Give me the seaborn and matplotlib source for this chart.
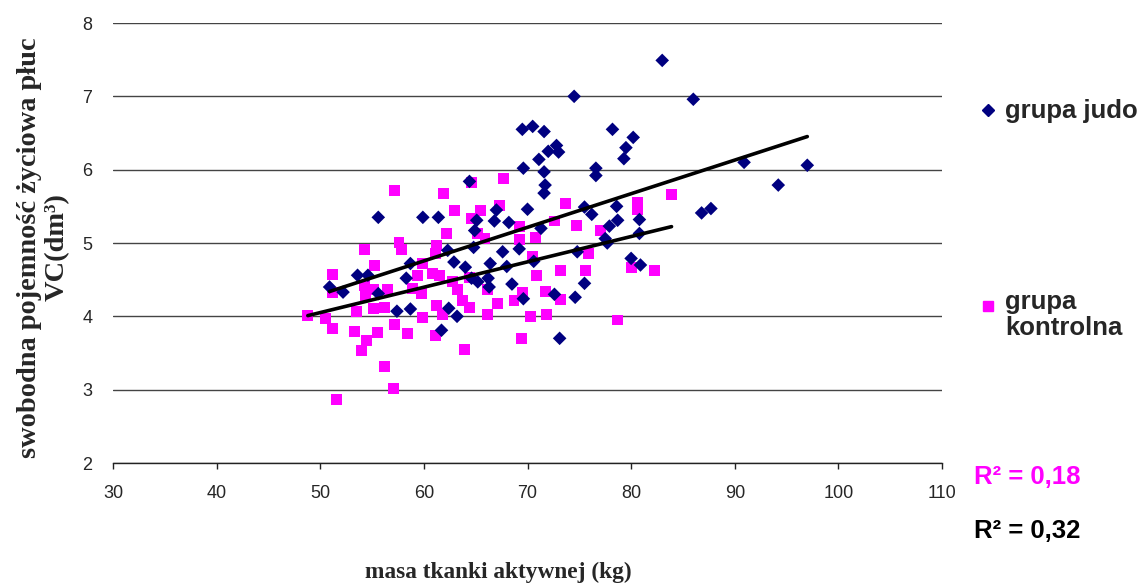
import matplotlib
matplotlib.use("Agg")
import matplotlib.pyplot as plt
import seaborn as sns
import pandas as pd
from matplotlib.lines import Line2D

# ---------------- data ----------------
judo_x = [50.9, 52.2, 53.6, 54.6, 55.6, 55.6, 57.4, 58.3, 58.7, 58.7, 59.9, 61.4,
          61.7, 62.3, 62.4, 62.9, 63.2, 64.0, 64.4, 64.6, 64.8, 64.9, 65.1, 65.2,
          66.2, 66.3, 66.4, 66.8, 67.0, 67.6, 68.0, 68.2, 68.5, 69.2, 69.5, 69.6,
          69.6, 70.0, 70.5, 70.6, 71.1, 71.3, 71.6, 71.6, 71.7, 71.6, 72.0, 72.6,
          72.8, 73.0, 73.1, 74.5, 74.6, 74.8, 75.5, 75.5, 76.2, 76.6, 76.6, 77.5,
          77.7, 77.9, 78.2, 78.6, 78.7, 79.3, 79.5, 80.0, 80.2, 80.8, 80.8, 80.9,
          83.0, 86.0, 86.8, 87.7, 90.9, 94.2, 97.0]
judo_y = [4.40, 4.33, 4.56, 4.56, 5.35, 4.31, 4.07, 4.52, 4.72, 4.10, 5.35, 5.35,
          3.81, 4.90, 4.11, 4.74, 4.00, 4.67, 5.84, 4.52, 4.94, 5.17, 5.31, 4.47,
          4.52, 4.40, 4.72, 5.30, 5.45, 4.88, 4.68, 5.28, 4.44, 4.92, 6.55, 6.02,
          4.24, 5.46, 6.59, 4.75, 6.14, 5.20, 6.52, 5.97, 5.79, 5.68, 6.25, 4.30,
          6.33, 6.24, 3.70, 7.00, 4.26, 4.88, 5.49, 4.45, 5.39, 6.02, 5.92, 5.06,
          5.00, 5.23, 6.55, 5.50, 5.31, 6.15, 6.30, 4.79, 6.44, 5.32, 5.13, 4.70,
          7.49, 6.96, 5.41, 5.47, 6.10, 5.79, 6.06]

kontr_x = [48.8, 50.5, 51.2, 51.2, 51.2, 51.6, 53.3, 53.5, 54.0, 54.3, 54.3, 54.4,
           54.5, 55.1, 55.1, 55.2, 55.5, 56.2, 56.2, 56.5, 57.1, 57.2, 57.2, 57.6,
           57.8, 58.4, 58.9, 59.4, 59.8, 59.9, 59.9, 60.8, 61.1, 61.1, 61.2, 61.2,
           61.5, 61.8, 61.9, 62.2, 62.8, 63.0, 63.2, 63.7, 63.9, 64.4, 64.4, 64.6,
           64.6, 65.2, 65.5, 65.9, 66.1, 66.1, 67.1, 67.3, 67.7, 68.7, 69.2, 69.2,
           69.4, 69.5, 70.3, 70.5, 70.8, 70.9, 71.7, 71.8, 72.6, 73.2, 73.2, 73.7,
           74.7, 75.6, 75.9, 77.0, 78.7, 80.0, 80.6, 80.6, 82.3, 83.9]
kontr_y = [4.01, 3.97, 4.57, 4.33, 3.84, 2.87, 3.79, 4.07, 3.53, 4.91, 4.42, 4.28,
           3.67, 4.11, 4.36, 4.69, 3.78, 4.12, 3.31, 4.36, 3.02, 5.71, 3.89, 5.01,
           4.91, 3.77, 4.38, 4.56, 4.31, 4.72, 3.99, 4.59, 4.86, 3.74, 4.96, 4.15,
           4.56, 4.02, 5.68, 5.13, 4.47, 5.44, 4.36, 4.22, 3.55, 4.53, 4.12, 5.83,
           5.34, 5.13, 5.44, 5.06, 4.36, 4.02, 4.18, 5.51, 5.88, 4.22, 5.23, 5.05,
           3.70, 4.32, 4.00, 4.81, 5.07, 4.56, 4.34, 4.03, 5.30, 4.62, 4.23, 5.54,
           5.24, 4.62, 4.86, 5.17, 3.95, 4.67, 5.55, 5.45, 4.62, 5.66]

x_ticks = [30, 40, 50, 60, 70, 80, 90, 100, 110]
y_ticks = [2, 3, 4, 5, 6, 7, 8]
series_names = ["grupa judo", "grupa\nkontrolna"]
r2_labels = ["R² = 0,18", "R² = 0,32"]

NAVY = "#000080"
MAGENTA = "#FF00FF"

df_j = pd.DataFrame({"x": judo_x, "y": judo_y})
df_k = pd.DataFrame({"x": kontr_x, "y": kontr_y})

# ---------------- figure ----------------
sns.set_theme(style="white")
plt.rcParams["font.family"] = ["Liberation Sans", "DejaVu Sans"]

fig = plt.figure(figsize=(11.43, 5.84), dpi=100)
ax = fig.add_axes([113 / 1143, 1 - 463 / 584, 829 / 1143, 440 / 584])

sns.scatterplot(data=df_k, x="x", y="y", marker="s", s=62, color=MAGENTA,
                edgecolor="none", linewidth=0, ax=ax, zorder=3)
sns.scatterplot(data=df_j, x="x", y="y", marker="D", s=48, color=NAVY,
                edgecolor="none", linewidth=0, ax=ax, zorder=4)
sns.regplot(data=df_j, x="x", y="y", scatter=False, ci=None, truncate=True,
            color="black", line_kws={"linewidth": 2.6, "zorder": 5}, ax=ax)
sns.regplot(data=df_k, x="x", y="y", scatter=False, ci=None, truncate=True,
            color="black", line_kws={"linewidth": 2.6, "zorder": 5}, ax=ax)

ax.set_xlim(30, 110)
ax.set_ylim(2, 8)
ax.set_xticks(x_ticks)
ax.set_yticks(y_ticks)
ax.set_xticklabels([str(v) for v in x_ticks], fontsize=13)
ax.set_yticklabels([str(v) for v in y_ticks], fontsize=13)
ax.yaxis.grid(True, color="#444444", linewidth=1.0)
ax.xaxis.grid(False)
ax.set_axisbelow(True)
for side in ["left", "top", "right"]:
    ax.spines[side].set_visible(False)
ax.spines["bottom"].set_color("#222222")
ax.spines["bottom"].set_linewidth(1.0)
ax.tick_params(axis="x", direction="out", length=4, width=1, color="#222222",
               pad=12, bottom=True)
ax.tick_params(axis="y", length=0, pad=15)

serif = ["Liberation Serif", "DejaVu Serif"]
ax.set_xlabel("masa tkanki aktywnej (kg)", fontsize=16.8, fontweight="bold",
              family=serif)
ax.xaxis.set_label_coords(385 / 829, -(562 - 463) / 440)
ax.set_ylabel("swobodna pojemność życiowa płuc\nVC(dm³)", fontsize=20.4,
              fontweight="bold", family=serif, linespacing=1.15)
ax.yaxis.set_label_coords(-(113 - 70) / 829, 0.49)

# legend (manual placement to mimic the Excel layout)
fig.add_artist(Line2D([988 / 1143], [1 - 110 / 584], marker="D", markersize=6.5,
                      color=NAVY, linestyle="none", transform=fig.transFigure))
fig.add_artist(Line2D([988 / 1143], [1 - 306 / 584], marker="s", markersize=7.5,
                      color=MAGENTA, linestyle="none", transform=fig.transFigure))
fig.text(1005 / 1143, 1 - 111 / 584, series_names[0], fontsize=18.5,
         fontweight="bold", va="center", ha="left")
fig.text(1005 / 1143, 1 - 290 / 584, series_names[1], fontsize=18.5,
         fontweight="bold", va="top", ha="left", linespacing=1.1)

fig.text(974 / 1143, 1 - 477 / 584, r2_labels[0], fontsize=18.5,
         fontweight="bold", color=MAGENTA, va="center", ha="left")
fig.text(974 / 1143, 1 - 531 / 584, r2_labels[1], fontsize=18.5,
         fontweight="bold", color="black", va="center", ha="left")

fig.savefig("out.png", dpi=100)
